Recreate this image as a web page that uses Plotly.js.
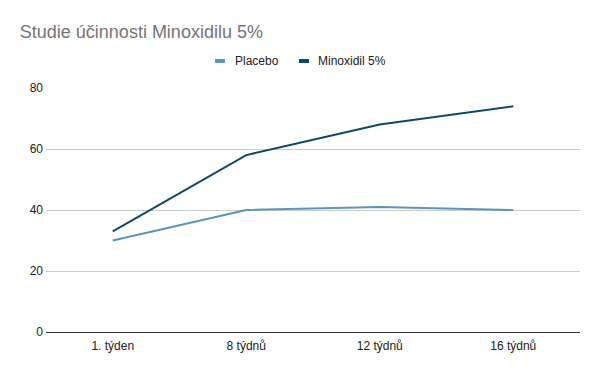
<!DOCTYPE html>
<html>
<head>
<meta charset="utf-8">
<script src="https://cdn.plot.ly/plotly-3.0.1.min.js"></script>
<style>html,body{margin:0;padding:0;background:#fff;}#chart{width:600px;height:371px;}</style>
</head>
<body>
<div id="chart"></div>
<script>
var categories = ["1. týden", "8 týdnů", "12 týdnů", "16 týdnů"];
var placebo = [30, 40, 41, 40];
var minoxidil = [33, 58, 68, 74];
var seriesNames = ["Placebo", "Minoxidil 5%"];
var seriesColors = ["#5b96b8", "#0c4a66"];
var yTicks = [0, 20, 40, 60, 80];

var traces = [
  {x: categories, y: placebo, name: seriesNames[0], type: "scatter", mode: "lines",
   line: {color: seriesColors[0], width: 2}, showlegend: false},
  {x: categories, y: minoxidil, name: seriesNames[1], type: "scatter", mode: "lines",
   line: {color: seriesColors[1], width: 2}, showlegend: false}
];

// custom legend (paper coordinates)
var legendSwatchX = [[0.3165, 0.3352], [0.4738, 0.4925]];
var legendTextX = [0.3521, 0.5075];
var shapes = [], annotations = [];
for (var i = 0; i < seriesNames.length; i++) {
  shapes.push({type: "rect", xref: "paper", yref: "paper",
    x0: legendSwatchX[i][0], x1: legendSwatchX[i][1], y0: 1.1025, y1: 1.1189,
    fillcolor: seriesColors[i], line: {width: 0}});
  annotations.push({xref: "paper", yref: "paper", x: legendTextX[i], y: 1.1107,
    xanchor: "left", yanchor: "middle", showarrow: false, text: seriesNames[i],
    font: {size: 12, color: "#222"}, borderpad: 0});
}

var layout = {
  width: 600, height: 371,
  margin: {l: 46, r: 20, t: 88, b: 39},
  paper_bgcolor: "#fff", plot_bgcolor: "#fff",
  font: {family: "Liberation Sans, Arial, sans-serif", size: 12, color: "#222"},
  title: {text: "Studie účinnosti Minoxidilu 5%", x: 0.033, xanchor: "left", y: 0.915, yanchor: "middle",
          xref: "container", yref: "container",
          font: {family: "Liberation Sans, Arial, sans-serif", size: 18, color: "#757575"}},
  showlegend: false,
  shapes: shapes,
  annotations: annotations,
  xaxis: {type: "category", range: [-0.5, 3.5], showgrid: false, zeroline: false, showline: false,
          ticks: "", tickfont: {size: 12, color: "#222"}, ticklabelstandoff: 5, fixedrange: true},
  yaxis: {range: [0, 80], tickvals: yTicks, showgrid: true, gridcolor: "#cccccc", gridwidth: 1,
          zeroline: true, zerolinecolor: "#333333", zerolinewidth: 1, showline: false, ticks: "",
          tickfont: {size: 12, color: "#222"}, ticklabelstandoff: 2, fixedrange: true, automargin: false}
};

Plotly.newPlot("chart", traces, layout, {displayModeBar: false, staticPlot: true});
</script>
</body>
</html>
